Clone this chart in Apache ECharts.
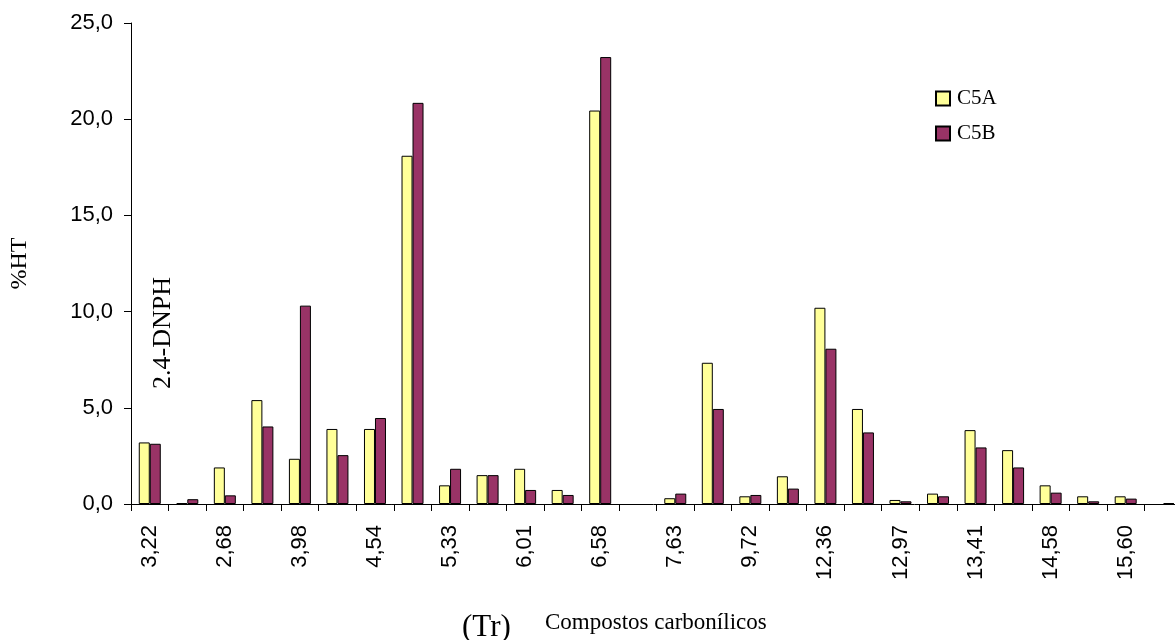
<!DOCTYPE html>
<html>
<head>
<meta charset="utf-8">
<script src="https://cdn.jsdelivr.net/npm/echarts@6/dist/echarts.min.js"></script>
<style>
html,body{margin:0;padding:0;background:#fff;}
#chart{width:1175px;height:640px;}
</style>
</head>
<body>
<div id="chart"></div>
<script>
// Retention times (only every other category label is shown in the reference)
const categories = ['3,22','', '2,68','', '3,98','', '4,54','', '5,33','', '6,01','', '6,58','', '7,63','', '9,72','', '12,36','', '12,97','', '13,41','', '14,58','', '15,60',''];
const seriesNames = ['C5A', 'C5B'];
// null = no bar drawn in the reference
const valuesC5A = [3.2, 0.05, 1.9, 5.4, 2.35, 3.9, 3.9, 18.1, 0.97, 1.5, 1.83, 0.73, 20.45, null, 0.3, 7.34, 0.4, 1.44, 10.2, 4.94, 0.21, 0.54, 3.84, 2.8, 0.97, 0.4, 0.4, null];
const valuesC5B = [3.13, 0.25, 0.45, 4.03, 10.31, 2.54, 4.47, 20.85, 1.83, 1.5, 0.73, 0.47, 23.23, null, 0.54, 4.94, 0.47, 0.8, 8.07, 3.72, 0.14, 0.4, 2.94, 1.9, 0.59, 0.14, 0.28, 0.05];
const yAxisTitle = '%HT';
const annotation = '2.4-DNPH';
const xTitleA = '(Tr)';
const xTitleB = 'Compostos carbonílicos';

const chart = echarts.init(document.getElementById('chart'), null, {renderer: 'canvas'});
const sans = '"Liberation Sans", Arial, sans-serif';
const serif = '"Liberation Serif", "Times New Roman", serif';

chart.setOption({
  animation: false,
  backgroundColor: '#ffffff',
  grid: {left: 131, top: 23, width: 1051, height: 481, outerBoundsMode: 'none', containLabel: false},
  legend: {
    orient: 'vertical', left: 935, top: 88, padding: 0,
    itemWidth: 14, itemHeight: 14, itemGap: 14,
    icon: 'rect',
    textStyle: {fontFamily: serif, fontSize: 21, color: '#000', padding: [0,0,0,2]},
    data: seriesNames
  },
  xAxis: {
    type: 'category',
    data: categories,
    boundaryGap: true,
    axisLine: {lineStyle: {color: '#000', width: 1}},
    axisTick: {show: true, interval: 0, length: 7, lineStyle: {color: '#000'}},
    axisLabel: {interval: 1, rotate: 90, margin: 21, fontFamily: sans, fontSize: 22, color: '#000'},
    splitLine: {show: false}
  },
  yAxis: {
    type: 'value', min: 0, max: 25, interval: 5,
    name: yAxisTitle, nameLocation: 'middle', nameGap: 99, nameRotate: 90,
    nameTextStyle: {fontFamily: serif, fontSize: 24, color: '#000'},
    axisLine: {show: true, lineStyle: {color: '#000', width: 1}},
    axisTick: {show: true, length: 7, lineStyle: {color: '#000'}},
    axisLabel: {margin: 18, fontFamily: sans, fontSize: 22, color: '#000',
      formatter: v => v.toFixed(1).replace('.', ',')},
    splitLine: {show: false}
  },
  series: [
    {name: seriesNames[0], type: 'bar', data: valuesC5A, barWidth: 11, barGap: '0%',
      itemStyle: {color: '#FFFF99', borderColor: '#000', borderWidth: 1}},
    {name: seriesNames[1], type: 'bar', data: valuesC5B, barWidth: 11, barGap: '0%',
      itemStyle: {color: '#993366', borderColor: '#000', borderWidth: 1}}
  ],
  graphic: [
    {type: 'text', x: 163, y: 333, rotation: Math.PI / 2,
      style: {text: annotation, fontFamily: serif, fontSize: 26, fill: '#000', align: 'center', verticalAlign: 'middle'}},
    {type: 'text', x: 462, y: 628,
      style: {text: xTitleA, fontFamily: serif, fontSize: 31, fill: '#000', align: 'left', verticalAlign: 'middle'}},
    {type: 'text', x: 545, y: 623,
      style: {text: xTitleB, fontFamily: serif, fontSize: 23, fill: '#000', align: 'left', verticalAlign: 'middle'}}
  ]
});
</script>
</body>
</html>
